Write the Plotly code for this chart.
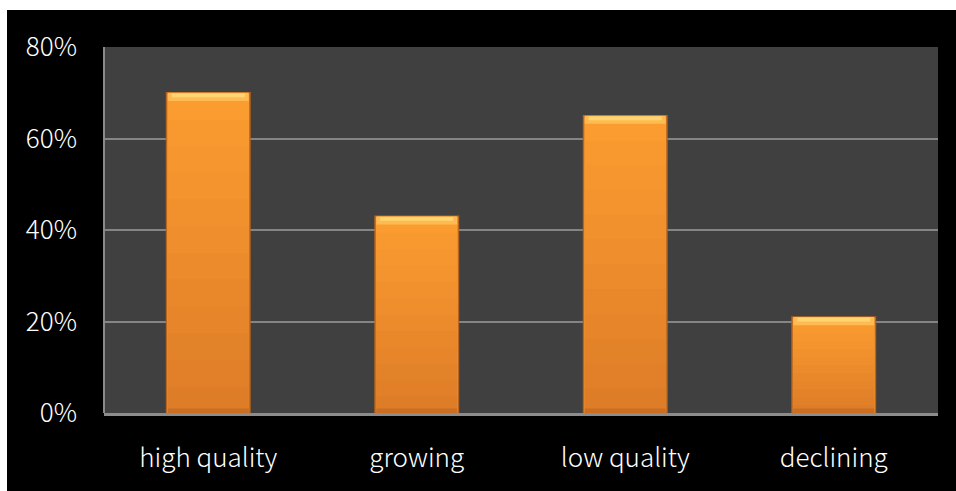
import plotly.graph_objects as go

# Share of products by category
categories = ["high quality", "growing", "low quality", "declining"]
shares = [0.70, 0.43, 0.65, 0.21]
y_ticks = [0, 0.2, 0.4, 0.6, 0.8]
y_tick_labels = ["0%", "20%", "40%", "60%", "80%"]

W, H = 956, 491
ML, MR, MT, MB = 104, 18, 47, 78
PW, PH = W - ML - MR, H - MT - MB

BAR_W = 0.4
BEVEL = 0.018  # height of the top highlight band, in axis units
FONT = "Noto Sans CJK KR, Noto Sans, sans-serif"

TOP_RGB = (251, 156, 48)
BOTTOM_RGB = (222, 125, 40)
STEPS = 12


def mix(t):
    return "rgb({},{},{})".format(*[round(a + (b - a) * t) for a, b in zip(TOP_RGB, BOTTOM_RGB)])


fig = go.Figure()

# main bar body with edge
fig.add_trace(go.Bar(
    x=categories, y=shares, width=BAR_W,
    marker=dict(color=mix(0), line=dict(color="#B8641E", width=1.5)),
    hoverinfo="x+y", showlegend=False,
))
# vertical shading: each band darker toward the base
for i in range(1, STEPS):
    frac = 1 - i / STEPS
    fig.add_trace(go.Bar(
        x=categories, y=[v * frac for v in shares], width=BAR_W - 0.012,
        marker=dict(color=mix(i / (STEPS - 1)), line=dict(width=0)),
        hoverinfo="skip", showlegend=False,
    ))
# bottom bevel
fig.add_trace(go.Bar(
    x=categories, y=[0.01] * len(shares), width=BAR_W - 0.012,
    marker=dict(color="#C96E22", line=dict(width=0)),
    hoverinfo="skip", showlegend=False,
))
# top bevel highlight
fig.add_trace(go.Bar(
    x=categories, y=[BEVEL] * len(shares), base=[v - BEVEL for v in shares],
    width=BAR_W - 0.012,
    marker=dict(color="#FFBB52", line=dict(width=0)),
    hoverinfo="skip", showlegend=False,
))
fig.add_trace(go.Bar(
    x=categories, y=[BEVEL * 0.45] * len(shares), base=[v - BEVEL * 0.55 for v in shares],
    width=BAR_W - 0.05,
    marker=dict(color="#FFD572", line=dict(width=0)),
    hoverinfo="skip", showlegend=False,
))

# white page edge on the left and top
fig.add_shape(type="rect", xref="paper", yref="paper",
              x0=-ML / PW, x1=(7 - ML) / PW, y0=-MB / PH, y1=(PH + MT) / PH,
              fillcolor="white", line=dict(width=0), layer="below")
fig.add_shape(type="rect", xref="paper", yref="paper",
              x0=-ML / PW, x1=(W - ML) / PW, y0=(PH + MT - 10) / PH, y1=(PH + MT) / PH,
              fillcolor="white", line=dict(width=0), layer="below")
# left border of the plot area
fig.add_shape(type="line", xref="paper", yref="paper",
              x0=0, x1=0, y0=0, y1=1,
              line=dict(color="#8A8A8A", width=2), layer="above")

fig.update_layout(
    width=W, height=H,
    margin=dict(l=ML, r=MR, t=MT, b=MB),
    paper_bgcolor="black",
    plot_bgcolor="#404040",
    barmode="overlay",
    bargap=0.6,
    font=dict(family=FONT, color="white", size=26, weight=300),
)
fig.update_xaxes(
    showgrid=False, showline=True, linecolor="#8C8C8C", linewidth=3,
    ticks="", ticklabelstandoff=20,
    tickfont=dict(family=FONT, color="white", size=26, weight=300),
)
fig.update_yaxes(
    range=[0, 0.8], tickvals=y_ticks, ticktext=y_tick_labels,
    showgrid=True, gridcolor="#858585", gridwidth=2,
    zeroline=False, showline=False,
    ticks="", ticklabelstandoff=26,
    tickfont=dict(family=FONT, color="white", size=26, weight=300),
)

fig.write_html("out.html")
